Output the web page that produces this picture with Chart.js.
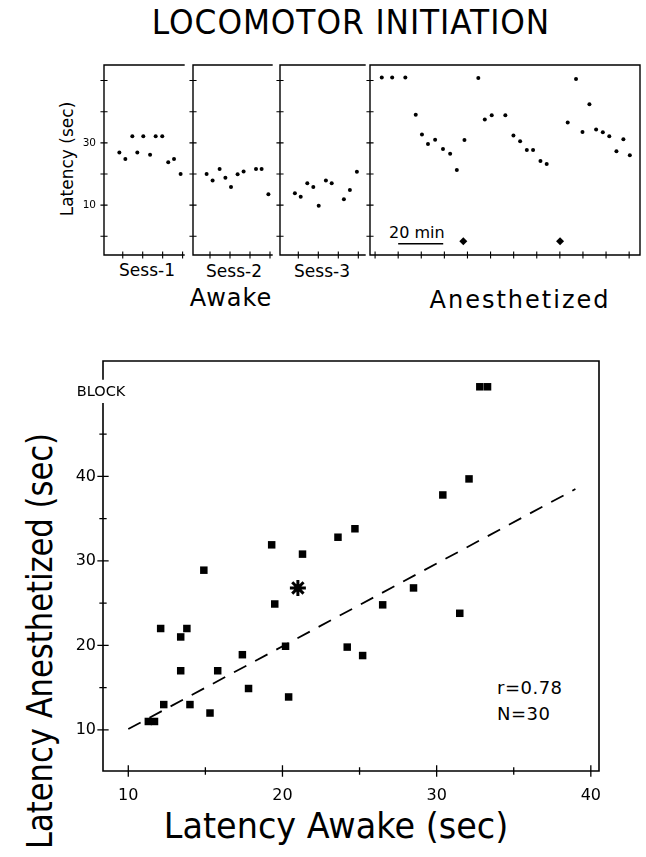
<!DOCTYPE html>
<html><head><meta charset="utf-8">
<script src="https://cdn.jsdelivr.net/npm/chart.js@4"></script>
<style>
html,body{margin:0;padding:0;background:#fff;}
body{width:646px;height:857px;position:relative;overflow:hidden;font-family:"DejaVu Sans",sans-serif;color:#000;}
canvas{position:absolute;left:0;top:0;}
.t{position:absolute;white-space:nowrap;transform:translate(-50%,-50%);line-height:1;}
.l{position:absolute;white-space:nowrap;transform:translate(0,-50%);line-height:1;}
.r{position:absolute;white-space:nowrap;transform:translate(-50%,-50%) rotate(-90deg);line-height:1;}
</style></head><body>
<div class="t" style="left:351px;top:22px;font-size:34px;letter-spacing:1px;transform:translate(-50%,-50%) scaleX(0.92);">LOCOMOTOR INITIATION</div>
<div class="r" style="left:67px;top:159px;font-size:17px;">Latency (sec)</div>
<div class="t" style="left:147px;top:270px;font-size:17px;">Sess-1</div>
<div class="t" style="left:234px;top:271px;font-size:17px;">Sess-2</div>
<div class="t" style="left:322px;top:271px;font-size:17px;">Sess-3</div>
<div class="t" style="left:231px;top:298px;font-size:24px;letter-spacing:1px;">Awake</div>
<div class="t" style="left:520px;top:300px;font-size:24px;letter-spacing:2px;">Anesthetized</div>
<div class="l" style="left:389px;top:233px;font-size:16px;">20 min</div>
<div class="t" style="left:336px;top:826px;font-size:36px;transform:translate(-50%,-50%) scaleX(0.93);">Latency Awake (sec)</div>
<div class="r" style="left:40px;top:641px;font-size:36px;transform:translate(-50%,-50%) rotate(-90deg) scaleX(0.85);">Latency Anesthetized (sec)</div>
<div class="l" style="left:497px;top:688px;font-size:18px;letter-spacing:0.5px;">r=0.78</div>
<div class="l" style="left:497px;top:714px;font-size:18px;letter-spacing:0.5px;">N=30</div>
<canvas id="c1" width="646" height="857"></canvas>
<canvas id="c2" width="646" height="857"></canvas>
<canvas id="c3" width="646" height="857"></canvas>
<canvas id="c4" width="646" height="857"></canvas>
<canvas id="c5" width="646" height="857"></canvas>
<script>
// ---------- data: top panels (time in min, latency in sec) ----------
const sess1Time = [8.3, 11.3, 14.8, 17.3, 20.3, 23.7, 26.5, 29.8, 32.8, 35.7, 39.0];
const sess1Lat  = [26.9, 24.8, 32.1, 26.9, 32.1, 26.2, 32.1, 32.1, 23.8, 24.8, 20.0];
const sess2Time = [8.3, 11.3, 14.8, 17.7, 20.5, 23.8, 26.8, 33.0, 35.8, 39.2];
const sess2Lat  = [20.0, 17.9, 21.6, 18.8, 15.8, 19.9, 20.8, 21.6, 21.6, 13.5];
const sess3Time = [8.3, 11.2, 14.5, 17.5, 20.2, 23.8, 26.7, 32.8, 35.8, 39.3];
const sess3Lat  = [13.8, 12.7, 17.0, 15.8, 9.8, 17.9, 17.0, 11.9, 14.9, 20.7];
const anesTime = [2.9, 7.4, 13.1, 17.6, 20.3, 22.9, 26.0, 29.4, 32.5, 35.4, 38.7,
                  44.7, 47.5, 50.5, 56.4, 59.9, 62.8, 65.7, 68.4, 71.6, 74.3,
                  83.4, 87.0, 89.8, 92.8, 95.7, 98.6, 101.4, 104.5, 107.5, 110.3];
const anesLat  = [51.0, 51.0, 51.0, 39.0, 32.7, 29.6, 31.0, 28.0, 26.5, 21.3, 30.9,
                  50.8, 37.5, 38.9, 38.9, 32.4, 30.5, 27.7, 27.7, 24.2, 23.2,
                  36.5, 50.5, 33.5, 42.4, 34.3, 33.4, 32.1, 27.3, 31.2, 26.0];
const injTime = [38.2, 80.1];
const injLat  = [-1.6, -1.6];
const scaleBarTime = [10, 29.5];
const scaleBarLat  = [-2.4, -2.4];
const topYTickLabels = [10, 30];
const topYTickMarks = [0, 10, 20, 30, 40, 50];
const timeTickMarks = [0, 10, 20, 30, 40, 50, 60, 70, 80, 90, 100, 110];

// ---------- data: bottom scatter ----------
const awakeLat = [32.1, 30.4, 24.7, 23.6, 19.3, 21.3, 14.9, 19.5, 28.5, 26.5, 31.5, 12.1, 13.8, 13.4,
                  20.2, 24.2, 25.2, 17.4, 13.4, 15.8, 17.8, 20.4, 12.3, 14.0, 15.3, 11.3, 11.7];
const anesthLat = [39.7, 37.8, 33.8, 32.8, 31.9, 30.8, 28.9, 24.9, 26.8, 24.8, 23.8, 22.0, 22.0, 21.0,
                   19.9, 19.8, 18.8, 18.9, 17.0, 17.0, 14.9, 13.9, 13.0, 13.0, 12.0, 11.0, 11.0];
const blockAwake = [32.8, 33.3];
const blockAnesth = [50.6, 50.6];
const meanAwake = [21.0];
const meanAnesth = [26.8];
const regAwake = [10, 39];
const regAnesth = [10.1, 38.5];
const bottomXTickLabels = [10, 20, 30, 40];
const bottomXMinor = [15, 25, 35];
const bottomYTickLabels = [10, 20, 30, 40];
const bottomYMinor = [15, 25, 35, 45];
const blockValue = 50;

const pts = (xs, ys) => xs.map((x, i) => ({x, y: ys[i]}));
const W = 646, H = 857;

const axisDraw = {
  id: 'axisDraw',
  beforeDatasetsDraw(chart, args, o) {
    const {ctx, chartArea: a, scales} = chart;
    const xs = scales.x, ys = scales.y;
    ctx.save();
    ctx.strokeStyle = '#000';
    ctx.lineWidth = o.lw;
    ctx.lineCap = 'square';
    ctx.beginPath();
    if (o.sides.includes('left')) {
      if (o.gap) {
        const gy = ys.getPixelForValue(o.gap);
        ctx.moveTo(a.left, a.bottom); ctx.lineTo(a.left, gy + 12);
        ctx.moveTo(a.left, gy - 13); ctx.lineTo(a.left, a.top);
      } else { ctx.moveTo(a.left, a.top); ctx.lineTo(a.left, a.bottom); }
    }
    if (o.sides.includes('bottom')) { ctx.moveTo(a.left, a.bottom); ctx.lineTo(a.right, a.bottom); }
    if (o.sides.includes('top')) { ctx.moveTo(a.left, a.top); ctx.lineTo(a.right, a.top); }
    if (o.sides.includes('right')) { ctx.moveTo(a.right, a.top); ctx.lineTo(a.right, a.bottom); }
    ctx.stroke();
    ctx.lineWidth = o.tw;
    ctx.beginPath();
    (o.xMajor || []).forEach(v => { const p = xs.getPixelForValue(v); if (p > a.left + 1 && p <= a.right + 1) { ctx.moveTo(p, a.bottom - o.maj); ctx.lineTo(p, a.bottom + o.maj); } });
    (o.xMinor || []).forEach(v => { const p = xs.getPixelForValue(v); ctx.moveTo(p, a.bottom - o.min); ctx.lineTo(p, a.bottom + o.min); });
    (o.yMajor || []).forEach(v => { const p = ys.getPixelForValue(v); ctx.moveTo(a.left - o.maj, p); ctx.lineTo(a.left + o.maj, p); });
    (o.yMinor || []).forEach(v => { const p = ys.getPixelForValue(v); ctx.moveTo(a.left - o.min, p); ctx.lineTo(a.left + o.min, p); });
    ctx.stroke();
    if (o.gap) {
      ctx.fillStyle = '#000';
      ctx.font = '14.5px "DejaVu Sans"';
      ctx.textAlign = 'center'; ctx.textBaseline = 'middle';
      ctx.fillText('BLOCK', a.left - 2, ys.getPixelForValue(o.gap));
    }
    ctx.restore();
  }
};

function makeChart(id, area, yW, xH, xr, yr, datasets, ax, yLabels, yFont, yPad, xLabels, xFont, xPad) {
  const [L, T, R, B] = area;
  return new Chart(document.getElementById(id), {
    type: 'scatter',
    data: {datasets},
    plugins: [axisDraw],
    options: {
      responsive: false, animation: false, devicePixelRatio: 1,
      layout: {padding: {left: L - yW, top: T, right: W - R, bottom: H - B - xH}},
      plugins: {legend: {display: false}, tooltip: {enabled: false}, axisDraw: ax},
      scales: {
        x: {
          type: 'linear', min: xr[0], max: xr[1],
          grid: {display: false, drawTicks: false}, border: {display: false},
          afterFit: s => { s.height = xH; },
          afterBuildTicks: s => { s.ticks = (xLabels || []).map(v => ({value: v})); },
          ticks: {display: !!xLabels, color: '#000', padding: xPad || 0, maxRotation: 0, autoSkip: false,
                  font: {family: 'DejaVu Sans', size: xFont || 12}}
        },
        y: {
          type: 'linear', min: yr[0], max: yr[1],
          grid: {display: false, drawTicks: false}, border: {display: false},
          afterFit: s => { s.width = yW; },
          afterBuildTicks: s => { s.ticks = (yLabels || []).map(v => ({value: v})); },
          ticks: {display: !!yLabels, color: '#000', padding: yPad || 0, autoSkip: false,
                  font: {family: 'DejaVu Sans', size: yFont || 12}}
        }
      }
    }
  });
}

const dot = {pointStyle: 'circle', pointRadius: 2, backgroundColor: '#000', borderColor: '#000', borderWidth: 0};
const topY = [-6, 55];
const topAx = (sides) => ({sides, lw: 1.4, tw: 1.1, maj: 3, min: 2, xMajor: timeTickMarks, yMajor: topYTickMarks});

makeChart('c1', [104, 65, 184, 255], 30, 0, [0.6, 40.7], topY,
  [Object.assign({data: pts(sess1Time, sess1Lat)}, dot)],
  topAx(['left', 'bottom', 'top']), topYTickLabels, 10.5, 8);
makeChart('c2', [193, 65, 272, 255], 0, 0, [1.5, 41], topY,
  [Object.assign({data: pts(sess2Time, sess2Lat)}, dot)],
  topAx(['left', 'bottom', 'top']));
makeChart('c3', [280, 65, 365, 255], 0, 0, [0.85, 43.35], topY,
  [Object.assign({data: pts(sess3Time, sess3Lat)}, dot)],
  topAx(['left', 'bottom', 'top']));
makeChart('c4', [370, 65, 640, 255], 0, 0, [-2.2, 114.7], topY,
  [Object.assign({data: pts(anesTime, anesLat)}, dot),
   {data: pts(injTime, injLat), pointStyle: 'rectRot', pointRadius: 4, backgroundColor: '#000', borderColor: '#000', borderWidth: 0},
   {type: 'line', data: pts(scaleBarTime, scaleBarLat), showLine: true, borderColor: '#000', borderWidth: 1.5, pointRadius: 0}],
  topAx(['left', 'bottom', 'top', 'right']));

makeChart('c5', [103, 361, 599, 771], 40, 36, [8.36, 40.53], [5.14, 53.65],
  [{data: pts(awakeLat, anesthLat), pointStyle: 'rect', pointRadius: 5.3, backgroundColor: '#000', borderColor: '#000', borderWidth: 0},
   {data: pts(blockAwake, blockAnesth), pointStyle: 'rect', pointRadius: 5.3, backgroundColor: '#000', borderColor: '#000', borderWidth: 0},
   {data: pts(meanAwake, meanAnesth), pointStyle: 'star', pointRadius: 8, borderColor: '#000', borderWidth: 3},
   {type: 'line', data: pts(regAwake, regAnesth), showLine: true, borderColor: '#000', borderWidth: 1.8, borderDash: [14, 10], pointRadius: 0}],
  {sides: ['left', 'bottom', 'top', 'right'], lw: 1.6, tw: 1.3, maj: 5, min: 3,
   xMajor: bottomXTickLabels, xMinor: bottomXMinor, yMajor: bottomYTickLabels, yMinor: bottomYMinor, gap: blockValue},
  bottomYTickLabels, 16, 7, bottomXTickLabels, 16, 15);
</script>
</body></html>
